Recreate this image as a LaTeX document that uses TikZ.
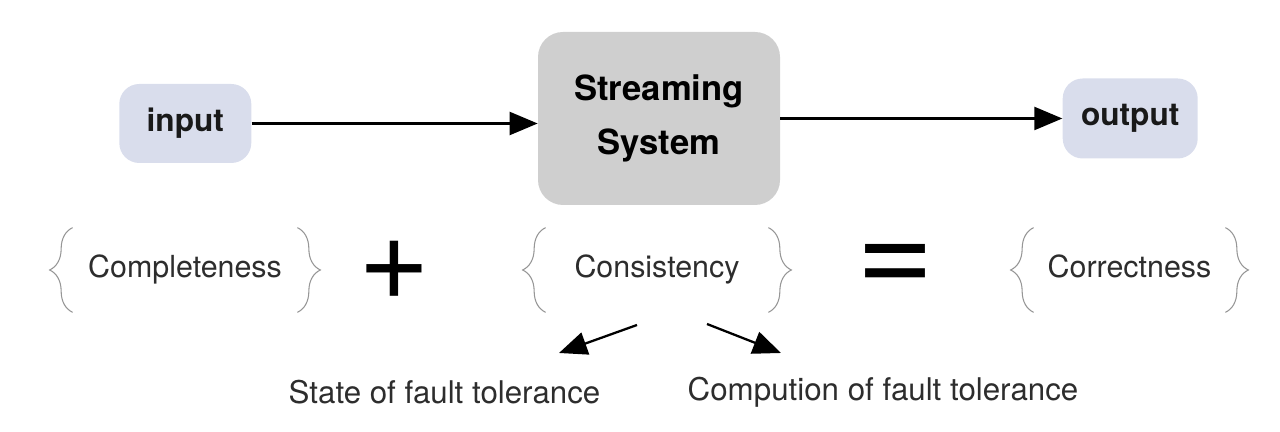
\documentclass[tikz,border=0pt]{standalone}
\usepackage{fontspec}
\setmainfont{TeX Gyre Heros}
\usetikzlibrary{arrows.meta, positioning, calc, decorations.pathreplacing}
\definecolor{ioblue}{RGB}{217,221,236}
\definecolor{sysgray}{RGB}{207,207,207}
\definecolor{bracegray}{RGB}{150,150,150}
\definecolor{txtgray}{RGB}{45,45,45}
\tikzstyle{io} = [rectangle, rounded corners=0.4cm, fill=ioblue, minimum width=2.64cm,
    minimum height=1.58cm, font=\fontsize{18}{22}\selectfont\bfseries, text=black!90]
\tikzstyle{system} = [rectangle, rounded corners=0.5cm, fill=sysgray, minimum width=4.84cm,
    minimum height=3.46cm, align=center, font=\fontsize{19.7}{31}\selectfont\bfseries]
\tikzstyle{term} = [minimum height=1.68cm, inner xsep=0pt, text height=0.95em, text depth=0.1em,
    font=\fontsize{17.3}{20}\selectfont, text=txtgray]
\tikzstyle{brc} = [decorate, decoration={brace, amplitude=0.46cm}, draw=bracegray, line width=0.6pt]
\tikzstyle{op} = [inner sep=0pt]
\tikzstyle{arrow} = [line width=1.3pt, -{Triangle[length=0.56cm, width=0.46cm]}]
\tikzstyle{note} = [font=\fontsize{17.8}{20}\selectfont, text=txtgray]

\begin{document}
\begin{tikzpicture}
\useasboundingbox (0,0) rectangle (25.6,8.64);
\node (stream) [system] at (13.18,6.27) {Streaming\\System};
\node (input) [io, left=5.72cm of stream, yshift=-0.1cm] {input};
\node (output) [io, right=5.64cm of stream, minimum width=2.7cm, minimum height=1.6cm] {output};

\draw[arrow] (input.east) -- (input.east -| stream.west);
\draw[arrow] (stream.east |- output.west) -- (output.west);

% braced terms
\node (compl) [term, minimum width=4.48cm] at (3.70,3.24) {Completeness};
\node (plus) [op, font=\fontsize{70}{70}\selectfont] at (7.88,3.24) {+};
\node (consist) [term, minimum width=4.44cm] at (13.14,3.24) {Consistency};
\node (equals) [op, font=\fontsize{76}{76}\selectfont] at (17.9,3.26) {=};
\node (correct) [term, minimum width=3.82cm] at (22.59,3.24) {Correctness};
\foreach \n in {compl,consist,correct} {
  \draw[brc] (\n.south west) -- (\n.north west);
  \draw[brc] (\n.north east) -- (\n.south east);
}

\node (statefT) [note] at (8.89,0.80) {State of fault tolerance};
\node (compFT) [note] at (17.66,0.80) {Compution of fault tolerance};

\coordinate (c1) at (12.74,2.14);
\coordinate (t1) at (11.18,1.58);
\coordinate (c2) at (14.14,2.16);
\coordinate (t2) at (15.62,1.58);
\draw[arrow] (c1) -- (t1);
\draw[arrow] (c2) -- (t2);
\end{tikzpicture}
\end{document}
